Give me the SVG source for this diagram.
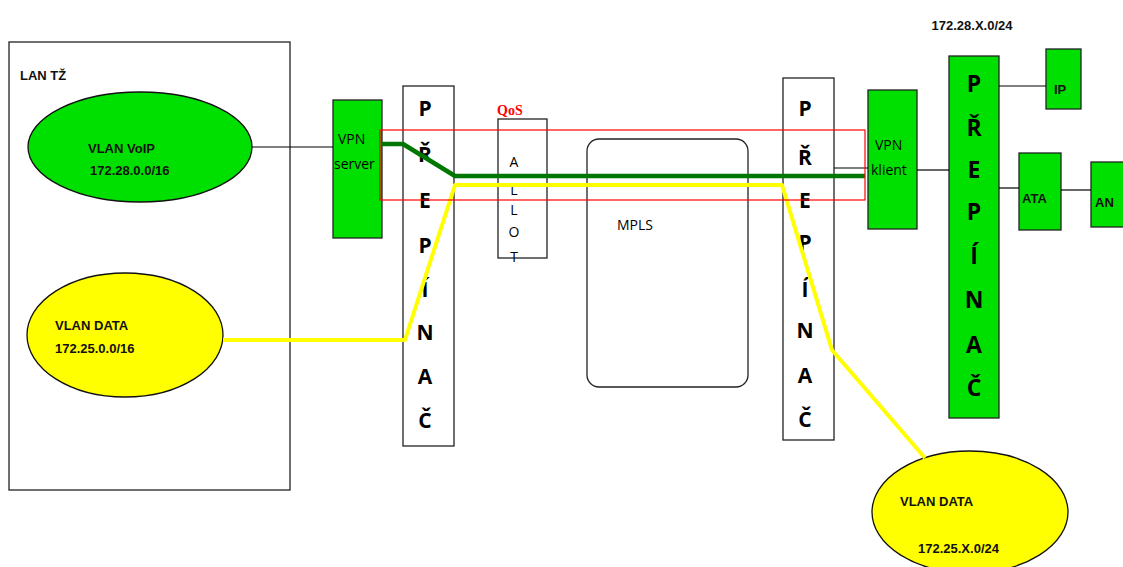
<svg xmlns="http://www.w3.org/2000/svg" width="1123" height="567" viewBox="0 0 1123 567">
<style>
.box{fill:#fff;stroke:#222;stroke-width:1.3}
.gbox{fill:#00e000;stroke:#222;stroke-width:1.3}
.ell{stroke:#111;stroke-width:1.3}
.lbl{font-family:"Liberation Sans",Arial,sans-serif;font-weight:bold;font-size:13px;fill:#111}
.dev{font-family:"Open Sans","Noto Sans",sans-serif;font-size:14px;fill:#000}
.sw{font-family:"Open Sans","Noto Sans",sans-serif;font-weight:bold;font-size:21px;fill:#000;text-anchor:middle}
.sw2{font-family:"Open Sans","Noto Sans",sans-serif;font-weight:bold;font-size:23px;fill:#000;text-anchor:middle}
.al{font-family:"Open Sans","Noto Sans",sans-serif;font-size:14px;fill:#000;text-anchor:middle}
.thin{stroke:#000;stroke-width:1.2;fill:none}
</style>
<rect width="1123" height="567" fill="#fff"/>
<g id="lan">
<rect class="box" x="9" y="42" width="281" height="448"/>
<text class="lbl" x="20" y="80" font-size="14">LAN TŽ</text>
</g>
<g id="vlan-voip">
<ellipse class="ell" cx="140" cy="147" rx="112" ry="55" fill="#00e000"/>
<text class="lbl" x="88" y="153">VLAN VoIP</text>
<text class="lbl" x="90" y="175">172.28.0.0/16</text>
</g>
<g id="vlan-data-left">
<ellipse class="ell" cx="125" cy="335" rx="98" ry="62" fill="#ffff00"/>
<text class="lbl" x="55" y="330">VLAN DATA</text>
<text class="lbl" x="55" y="353">172.25.0.0/16</text>
</g>
<g id="vpn-server">
<rect class="gbox" x="333" y="100" width="49" height="138"/>
<text class="dev" x="338" y="144">VPN</text>
<text class="dev" x="334" y="169">server</text>
</g>
<g id="switch-left">
<rect class="box" x="403" y="86" width="51" height="360"/>
<text class="sw" x="425" y="116">P</text>
<text class="sw" x="425" y="162">Ř</text>
<text class="sw" x="425" y="208">E</text>
<text class="sw" x="425" y="253">P</text>
<text class="sw" x="425" y="297">Í</text>
<text class="sw" x="425" y="340">N</text>
<text class="sw" x="425" y="384">A</text>
<text class="sw" x="425" y="428">Č</text>
</g>
<g id="allot">
<text x="497" y="115" font-family="Liberation Serif,serif" font-weight="bold" font-size="14" fill="#ff0000">QoS</text>
<rect class="box" x="498" y="119" width="49" height="139"/>
<text class="al" x="514" y="167">A</text>
<text class="al" x="514" y="195">L</text>
<text class="al" x="514" y="215">L</text>
<text class="al" x="514" y="237">O</text>
<text class="al" x="514" y="262">T</text>
</g>
<g id="mpls">
<rect class="box" x="587" y="139" width="161" height="248" rx="12"/>
<text class="dev" x="617" y="230">MPLS</text>
</g>
<g id="switch-right">
<rect class="box" x="783" y="78" width="51" height="362"/>
<text class="sw" x="805" y="116">P</text>
<text class="sw" x="805" y="165">Ř</text>
<text class="sw" x="805" y="208">E</text>
<text class="sw" x="805" y="250">P</text>
<text class="sw" x="805" y="297">Í</text>
<text class="sw" x="805" y="338">N</text>
<text class="sw" x="805" y="383">A</text>
<text class="sw" x="805" y="427">Č</text>
</g>
<g id="vpn-klient">
<rect class="gbox" x="868" y="90" width="49" height="139"/>
<text class="dev" x="875" y="150">VPN</text>
<text class="dev" x="871" y="175">klient</text>
</g>
<g id="switch-green">
<text class="lbl" x="972" y="30" text-anchor="middle">172.28.X.0/24</text>
<rect class="gbox" x="949" y="56" width="50" height="362"/>
<text class="sw2" x="974" y="92">P</text>
<text class="sw2" x="974" y="136">Ř</text>
<text class="sw2" x="974" y="178">E</text>
<text class="sw2" x="974" y="220">P</text>
<text class="sw2" x="974" y="264">Í</text>
<text class="sw2" x="974" y="308">N</text>
<text class="sw2" x="974" y="353">A</text>
<text class="sw2" x="974" y="396">Č</text>
</g>
<g id="ip">
<rect class="gbox" x="1046" y="49" width="35" height="60"/>
<text class="lbl" x="1054" y="94">IP</text>
</g>
<g id="ata">
<rect class="gbox" x="1019" y="153" width="42" height="77"/>
<text class="lbl" x="1022" y="203">ATA</text>
</g>
<g id="an">
<rect class="gbox" x="1091" y="162" width="40" height="65"/>
<text class="lbl" x="1095" y="207">AN</text>
</g>
<g id="vlan-data-right">
<ellipse class="ell" cx="970" cy="512" rx="98" ry="61" fill="#ffff00"/>
<text class="lbl" x="900" y="506">VLAN DATA</text>
<text class="lbl" x="918" y="553">172.25.X.0/24</text>
</g>
<g id="connectors">
<line class="thin" x1="252" y1="147" x2="333" y2="147"/>
<line class="thin" x1="834" y1="168" x2="868" y2="168"/>
<line class="thin" x1="917" y1="170" x2="949" y2="170"/>
<line class="thin" x1="999" y1="86" x2="1046" y2="86"/>
<line class="thin" x1="999" y1="188" x2="1019" y2="188"/>
<line class="thin" x1="1061" y1="190" x2="1091" y2="190"/>
<polyline points="223,340 405,340 455,185 782,185 832,350 925,458" fill="none" stroke="#ffff00" stroke-width="4" stroke-linejoin="round"/>
<polyline points="382,144 403,144 455,176 865,176" fill="none" stroke="#007800" stroke-width="4.5" stroke-linejoin="round"/>
<rect x="380" y="130" width="485" height="70" fill="none" stroke="#ff0000" stroke-width="1.2"/>
</g>
</svg>
